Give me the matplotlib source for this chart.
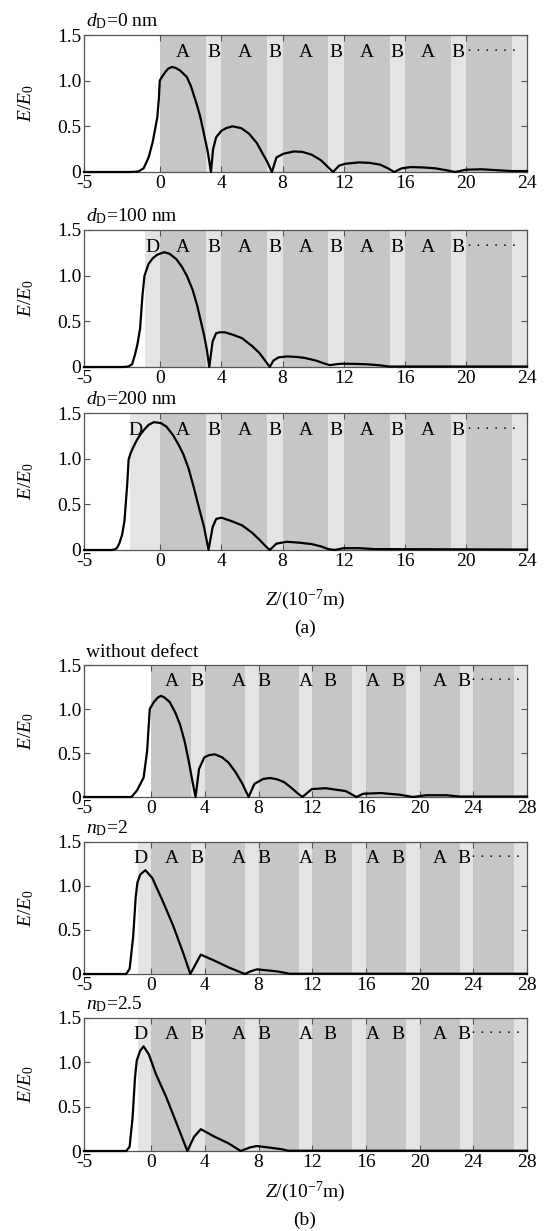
import matplotlib
matplotlib.use("Agg")
import matplotlib.pyplot as plt

# ----------------------------
# Data
# ----------------------------
# (a) defect thickness d_D
z_a1 = [-5, -2, -1.45, -1.1, -0.77, -0.5, -0.2, -0.1, -0.04, 0.1, 0.3, 0.5, 0.75, 1.0, 1.3, 1.73,
        2.0, 2.4, 2.6, 2.8, 2.95, 3.08, 3.2, 3.31, 3.45, 3.65, 3.99, 4.3, 4.72, 5.3, 5.8, 6.3, 6.7,
        7.0, 7.3, 7.6, 8.06, 8.74, 9.3, 9.9, 10.5, 11.0, 11.3, 11.7, 12.1, 13.0, 13.7, 14.4, 14.9,
        15.3, 15.8, 16.4, 17.2, 18.0, 18.7, 19.3, 20.0, 21.0, 22.0, 23.0, 24]
E_a1 = [0, 0, 0.005, 0.04, 0.16, 0.33, 0.6, 0.8, 1.0, 1.04, 1.09, 1.13, 1.15, 1.14, 1.11, 1.04,
        0.94, 0.73, 0.61, 0.46, 0.34, 0.24, 0.12, 0.0, 0.25, 0.38, 0.45, 0.48, 0.5, 0.48, 0.42, 0.32, 0.2,
        0.11, 0.0, 0.16, 0.2, 0.225, 0.22, 0.19, 0.13, 0.05, 0.0, 0.07, 0.09, 0.105, 0.1, 0.08, 0.04,
        0.0, 0.04, 0.054, 0.05, 0.04, 0.02, 0.0, 0.025, 0.03, 0.02, 0.01, 0.01]

z_a2 = [-5, -2.5, -2.1, -1.85, -1.67, -1.5, -1.33, -1.17, -1.04, -0.77, -0.5, -0.2, 0.25, 0.6,
        1.05, 1.4, 1.73, 2.1, 2.4, 2.65, 2.86, 3.05, 3.2, 3.42, 3.65, 3.9, 4.22, 4.8, 5.35, 6.0, 6.5,
        6.9, 7.16, 7.4, 7.73, 8.3, 8.9, 9.43, 10.2, 10.7, 11.1, 11.5, 11.9, 12.7, 13.5, 14.4, 15.0, 24]
E_a2 = [0, 0, 0.005, 0.03, 0.13, 0.25, 0.42, 0.79, 1.0, 1.13, 1.19, 1.23, 1.257, 1.24,
        1.18, 1.1, 1.0, 0.85, 0.68, 0.5, 0.35, 0.18, 0.0, 0.28, 0.37, 0.38, 0.38, 0.35, 0.315, 0.23, 0.15,
        0.06, 0.0, 0.07, 0.105, 0.116, 0.11, 0.1, 0.07, 0.04, 0.02, 0.03, 0.036, 0.034, 0.03, 0.018, 0.005, 0.005]

z_a3 = [-5, -3.2, -3.03, -2.85, -2.69, -2.5, -2.35, -2.17, -2.08, -1.95, -1.79, -1.55, -1.33,
        -1.05, -0.77, -0.43, 0.03, 0.4, 0.82, 1.2, 1.5, 1.85, 2.18, 2.5, 2.86, 3.15, 3.42, 3.65, 3.99,
        4.6, 5.35, 6.0, 6.5, 6.9, 7.16, 7.6, 8.3, 9.1, 9.9, 10.5, 11.0, 11.4, 12.0, 13.0, 14.0, 24]
E_a3 = [0, 0, 0.005, 0.02, 0.07, 0.17, 0.32, 0.72, 0.99, 1.06, 1.12, 1.2, 1.26,
        1.32, 1.37, 1.40, 1.39, 1.35, 1.26, 1.15, 1.05, 0.89, 0.69, 0.48, 0.25, 0.0, 0.25, 0.34, 0.354,
        0.32, 0.27, 0.19, 0.11, 0.04, 0.0, 0.07, 0.09, 0.08, 0.065, 0.04, 0.01, 0.0, 0.02, 0.02, 0.01, 0.005]

# (b) defect index n_D
z_b1 = [-5, -1.46, -1.05, -0.56, -0.3, -0.1, 0.21, 0.5, 0.73, 1.0, 1.38, 1.8, 2.16, 2.5, 2.8,
        3.05, 3.31, 3.57, 3.96, 4.3, 4.74, 5.3, 5.77, 6.3, 6.8, 7.26, 7.7, 8.35, 8.87, 9.4, 9.9, 10.4,
        10.93, 11.27, 11.97, 12.99, 14.5, 15.3, 15.8, 17.1, 18.5, 19.5, 20.5, 22.0, 23.0, 28]
E_b1 = [0, 0, 0.075, 0.22, 0.52, 1.0, 1.08, 1.13, 1.15, 1.13, 1.08, 0.96, 0.82, 0.63, 0.41,
        0.2, 0.0, 0.32, 0.45, 0.475, 0.485, 0.45, 0.39, 0.28, 0.15, 0.0, 0.15, 0.205, 0.216, 0.2, 0.17, 0.11,
        0.04, 0.0, 0.09, 0.1, 0.067, 0.0, 0.037, 0.045, 0.026, 0.0, 0.02, 0.02, 0.005, 0.005]

z_b2 = [-5, -1.85, -1.6, -1.34, -1.15, -1.02, -0.81, -0.43, 0.09, 0.86, 1.64, 2.41, 2.92, 3.31,
        3.7, 4.74, 5.77, 6.98, 7.4, 7.88, 8.4, 9.38, 9.9, 10.3, 28]
E_b2 = [0, 0, 0.06, 0.42, 0.87, 1.04, 1.13, 1.18, 1.09, 0.83, 0.55, 0.23, 0.0, 0.11,
        0.22, 0.15, 0.075, 0.0, 0.03, 0.053, 0.045, 0.03, 0.015, 0.003, 0.003]

z_b3 = [-5, -1.85, -1.6, -1.38, -1.2, -1.07, -0.82, -0.56, -0.17, 0.35, 1.12, 1.9, 2.7, 3.2,
        3.7, 4.74, 5.77, 6.67, 7.36, 7.88, 8.9, 9.8, 10.2, 28]
E_b3 = [0, 0, 0.05, 0.38, 0.83, 1.02, 1.13, 1.18, 1.09, 0.87, 0.61, 0.31, 0.0, 0.16,
        0.246, 0.16, 0.086, 0.0, 0.04, 0.056, 0.037, 0.018, 0.003, 0.003]

# layer structure (A: dark, B: light, D: defect)
a_layers_A = [(0, 3), (4, 7), (8, 11), (12, 15), (16, 19), (20, 23)]
a_layers_B = [(3, 4), (7, 8), (11, 12), (15, 16), (19, 20), (23, 24)]
b_layers_A = [(0, 3), (4, 7), (8, 11), (12, 15), (16, 19), (20, 23), (24, 27)]
b_layers_B = [(3, 4), (7, 8), (11, 12), (15, 16), (19, 20), (23, 24), (27, 28)]

a_letters = ["A", "B"] * 5
a_letter_z = [1.5, 3.5, 5.5, 7.5, 9.5, 11.5, 13.5, 15.5, 17.5, 19.5]
b_letters = ["A", "B"] * 5
b_letter_z = [1.56, 3.45, 6.5, 8.4, 11.5, 13.3, 16.5, 18.4, 21.5, 23.3]

a_xticks = [-5, 0, 4, 8, 12, 16, 20, 24]
b_xticks = [-5, 0, 4, 8, 12, 16, 20, 24, 28]
yticks = [0, 0.5, 1.0, 1.5]
ytick_labels = ["0", "0.5", "1.0", "1.5"]

panels = [
    # title, z, E, defect span, D label z, xlim, letters, letter z, A layers, B layers, xticks
    (r"$d_{\mathrm{D}}$=0 nm", z_a1, E_a1, None, None, (-5, 24), a_letters, a_letter_z, a_layers_A, a_layers_B, a_xticks),
    (r"$d_{\mathrm{D}}$=100 nm", z_a2, E_a2, (-1, 0), -0.55, (-5, 24), a_letters, a_letter_z, a_layers_A, a_layers_B, a_xticks),
    (r"$d_{\mathrm{D}}$=200 nm", z_a3, E_a3, (-2, 0), -1.6, (-5, 24), a_letters, a_letter_z, a_layers_A, a_layers_B, a_xticks),
    ("without defect", z_b1, E_b1, None, None, (-5, 28), b_letters, b_letter_z, b_layers_A, b_layers_B, b_xticks),
    (r"$n_{\mathrm{D}}$=2", z_b2, E_b2, (-1, 0), -0.8, (-5, 28), b_letters, b_letter_z, b_layers_A, b_layers_B, b_xticks),
    (r"$n_{\mathrm{D}}$=2.5", z_b3, E_b3, (-1, 0), -0.8, (-5, 28), b_letters, b_letter_z, b_layers_A, b_layers_B, b_xticks),
]

# ----------------------------
# Style
# ----------------------------
plt.rcParams.update({
    "font.family": "Liberation Serif",
    "mathtext.fontset": "custom",
    "mathtext.rm": "Liberation Serif",
    "mathtext.it": "Liberation Serif:italic",
    "font.size": 13,
})

DARK = "#c6c6c6"
LIGHT = "#e4e4e4"
FRAME = "#555555"

W, H = 544, 1231
fig = plt.figure(figsize=(W / 100, H / 100), dpi=100)

LEFT, RIGHT = 84, 527
axes_px = [(35, 172), (230, 367), (413, 550), (665, 797), (842, 974), (1018, 1151)]

for (title, z, E, dspan, dz, xlim, letters, letter_z, lay_A, lay_B, xticks), (top, bot) in zip(panels, axes_px):
    ax = fig.add_axes([LEFT / W, 1 - bot / H, (RIGHT - LEFT) / W, (bot - top) / H])

    for a, b in lay_A:
        ax.axvspan(a, b, color=DARK, lw=0, zorder=0)
    for a, b in lay_B:
        ax.axvspan(a, b, color=LIGHT, lw=0, zorder=0)
    if dspan is not None:
        ax.axvspan(dspan[0], dspan[1], color=LIGHT, lw=0, zorder=0)

    ax.plot(z, E, color="black", lw=1.6, zorder=3, clip_on=False, solid_joinstyle="round")

    ty = 1.31
    for s, xz in zip(letters, letter_z):
        ax.text(xz, ty, s, ha="center", va="center", fontsize=14, zorder=4)
    if dz is not None:
        ax.text(dz, ty, "D", ha="center", va="center", fontsize=14, zorder=4)
    ax.text(letter_z[-1] + 0.55, ty + 0.01, "· · · · · ·", ha="left", va="center", fontsize=11, zorder=4)

    ax.text(0.005, 1.03, title, transform=ax.transAxes, ha="left", va="bottom", fontsize=14)

    ax.set_xlim(*xlim)
    ax.set_ylim(0, 1.5)
    ax.set_xticks(xticks)
    ax.set_xticklabels([str(t) for t in xticks])
    ax.set_yticks(yticks)
    ax.set_yticklabels(ytick_labels)
    ax.tick_params(direction="in", top=True, right=True, length=4, width=0.8,
                   color=FRAME, labelsize=14, pad=2)
    for sp in ax.spines.values():
        sp.set_color(FRAME)
        sp.set_linewidth(0.9)

    ax.set_ylabel(r"$E/E_0$", fontsize=14)
    ax.yaxis.set_label_coords(-0.108, 0.5)

fig.text(305 / W, 1 - 600 / H, r"$Z$/(10$^{-7}$m)", ha="center", va="center", fontsize=14)
fig.text(305 / W, 1 - 628 / H, "(a)", ha="center", va="center", fontsize=14)
fig.text(305 / W, 1 - 1192 / H, r"$Z$/(10$^{-7}$m)", ha="center", va="center", fontsize=14)
fig.text(305 / W, 1 - 1220 / H, "(b)", ha="center", va="center", fontsize=14)

fig.savefig("out.png", dpi=100, facecolor="white")
